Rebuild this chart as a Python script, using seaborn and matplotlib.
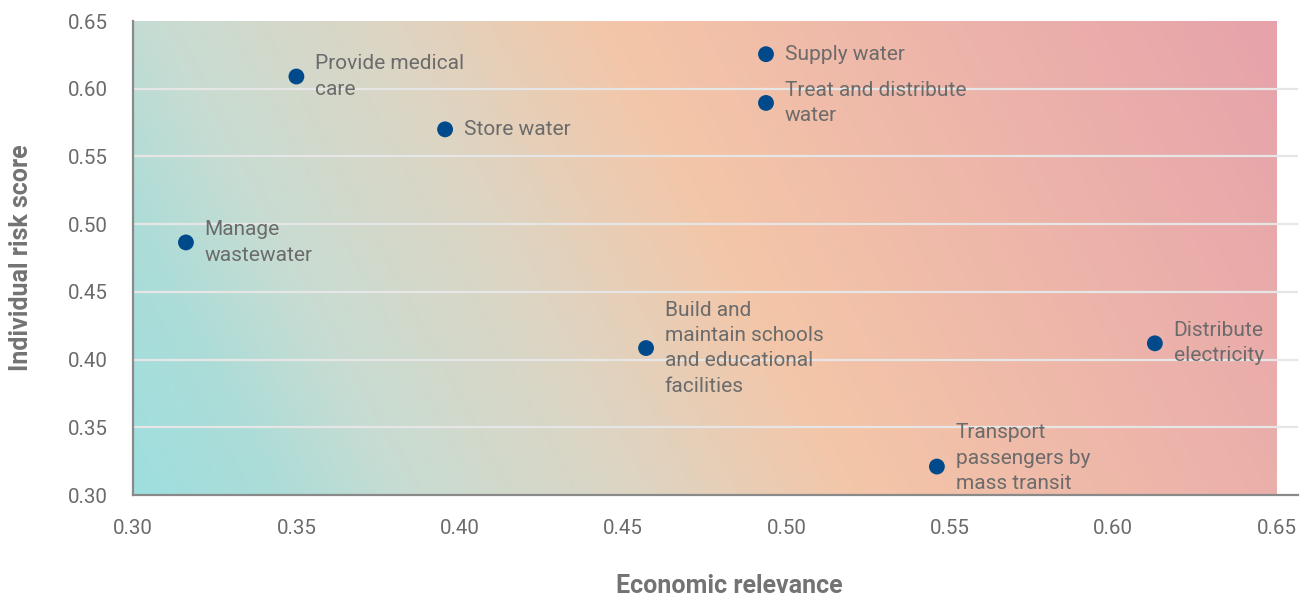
import numpy as np
import pandas as pd
import matplotlib
matplotlib.use("Agg")
import matplotlib.pyplot as plt
from matplotlib.colors import LinearSegmentedColormap
import seaborn as sns

# Activities: economic relevance vs individual risk score
activities = [
    "Provide medical\ncare",
    "Store water",
    "Supply water",
    "Treat and distribute\nwater",
    "Manage\nwastewater",
    "Build and\nmaintain schools\nand educational\nfacilities",
    "Distribute\nelectricity",
    "Transport\npassengers by\nmass transit",
]
economic_relevance = [0.350, 0.3955, 0.4937, 0.4937, 0.3162, 0.457, 0.6127, 0.546]
risk_score = [0.609, 0.570, 0.6255, 0.5895, 0.4865, 0.4085, 0.412, 0.321]

x_ticks = [0.30, 0.35, 0.40, 0.45, 0.50, 0.55, 0.60, 0.65]
y_ticks = [0.30, 0.35, 0.40, 0.45, 0.50, 0.55, 0.60, 0.65]

df = pd.DataFrame({"activity": activities,
                   "economic": economic_relevance,
                   "risk": risk_score})

sns.set_theme(style="white")
plt.rcParams["font.family"] = ["Roboto", "DejaVu Sans"]

TEXT = "#6b6b6b"
AXIS = "#8a8a8a"

fig = plt.figure(figsize=(13.13, 6.02), dpi=100)
ax = fig.add_axes([133 / 1313, 1 - 495 / 602, (1298 - 133) / 1313, (495 - 21) / 602])

# Diagonal background gradient: teal (low/low) -> peach -> rose (high)
cmap = LinearSegmentedColormap.from_list(
    "risk_bg",
    [(0.0, "#9edfdf"), (0.10, "#acdcd8"), (0.20, "#c9dcd2"),
     (0.36, "#ddd5c3"), (0.52, "#f4c6a8"), (0.76, "#edb4aa"),
     (1.0, "#e6a3ab")])
gx = np.linspace(0, 1, 600)
gy = np.linspace(0, 1, 300)
GX, GY = np.meshgrid(gx, gy)
T = (GX * 1144 + GY * 251) / 1395
ax.imshow(T, cmap=cmap, vmin=0, vmax=1, origin="lower", aspect="auto",
          extent=[0.30, 0.65, 0.30, 0.65], interpolation="bilinear", zorder=0)

# Horizontal gridlines
for yv in y_ticks[1:-1]:
    ax.axhline(yv, color="#e6e6e6", lw=1.6, zorder=1)

sns.scatterplot(data=df, x="economic", y="risk", ax=ax, s=130,
                color="#004a8c", edgecolor="none", zorder=3, legend=False)

for _, row in df.iterrows():
    dy = 6 if row["activity"].startswith("Transport") else 0
    ax.annotate(row["activity"], (row["economic"], row["risk"]),
                xytext=(13.5, dy), textcoords="offset points",
                ha="left", va="center", fontsize=15, color=TEXT,
                linespacing=1.42, zorder=4)

ax.set_xlim(0.30, 0.6565)
ax.set_ylim(0.30, 0.65)
ax.set_xticks(x_ticks)
ax.set_yticks(y_ticks)
ax.set_xticklabels([f"{v:.2f}" for v in x_ticks])
ax.set_yticklabels([f"{v:.2f}" for v in y_ticks])

for side in ["top", "right"]:
    ax.spines[side].set_visible(False)
for side in ["left", "bottom"]:
    ax.spines[side].set_color(AXIS)
    ax.spines[side].set_linewidth(1.6)

ax.tick_params(axis="x", length=8, width=1.6, color=AXIS, direction="out",
               pad=9, labelsize=14.8, labelcolor=TEXT)
ax.tick_params(axis="y", length=0, pad=18, labelsize=14.8, labelcolor=TEXT)
ax.grid(False)

ax.set_xlabel("Economic relevance", fontsize=18, fontweight="bold", color="#737373")
ax.set_ylabel("Individual risk score", fontsize=18, fontweight="bold", color="#737373")
ax.xaxis.set_label_coords((729 - 133) / (1298 - 133), -(574 - 495) / 474)
ax.yaxis.set_label_coords(-(133 - 33) / (1298 - 133), 0.5)

fig.savefig("out.png", dpi=100, facecolor="white")
